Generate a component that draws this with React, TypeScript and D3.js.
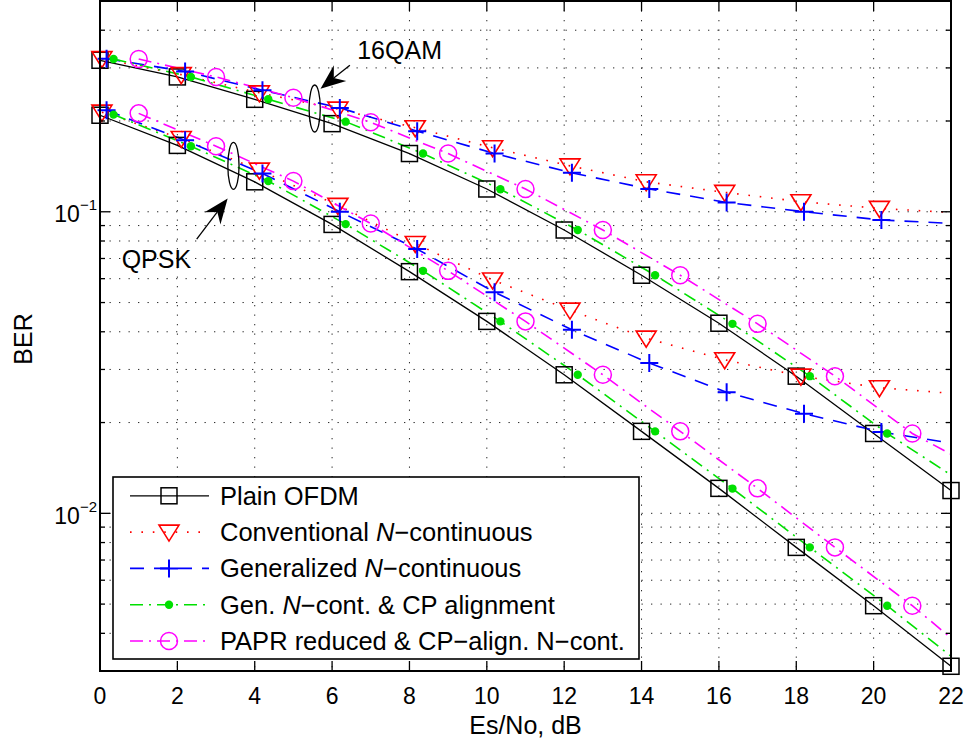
import React from 'react';
import * as d3 from 'd3';

// ---------- data (BER vs Es/No, dB) ----------
const xTicks = [0, 2, 4, 6, 8, 10, 12, 14, 16, 18, 20, 22];
const yMajorTicks = [0.01, 0.1];
const yDomain = [0.003, 0.5];

// Plain OFDM (squares)
const xPlain = [0, 2, 4, 6, 8, 10, 12, 14, 16, 18, 20, 22];
const plain16 = [0.318, 0.28, 0.236, 0.196, 0.156, 0.119, 0.087, 0.0616, 0.0427, 0.0285, 0.0184, 0.0119];
const plainQ = [0.209, 0.166, 0.1257, 0.0908, 0.0633, 0.0433, 0.0288, 0.0187, 0.0121, 0.00771, 0.00494, 0.00311];

// Conventional N-continuous (triangles)
const xConv = [0.05, 2.1, 4.12, 6.15, 8.15, 10.15, 12.15, 14.12, 16.15, 18.12, 20.15];
const conv16 = [0.322, 0.285, 0.248, 0.219, 0.19, 0.163, 0.142, 0.1257, 0.116, 0.108, 0.1026];
const convQ = [0.214, 0.175, 0.1374, 0.105, 0.0785, 0.0594, 0.0472, 0.0381, 0.0323, 0.0285, 0.0261];
const convEnd16 = 0.0995;
const convEndQ = 0.025;

// Generalized N-continuous (plus)
const xGen = [0.17, 2.2, 4.2, 6.2, 8.2, 10.2, 12.2, 14.2, 16.2, 18.2, 20.2];
const gen16 = [0.322, 0.292, 0.253, 0.221, 0.185, 0.156, 0.1346, 0.119, 0.1074, 0.1, 0.0939];
const genQ = [0.217, 0.1725, 0.134, 0.1, 0.0752, 0.0541, 0.0406, 0.0315, 0.0252, 0.0214, 0.0186];
const genEnd16 = 0.0915;
const genEndQ = 0.0171;

// Gen. N-cont. & CP alignment (dots)
const xCP = [0.35, 2.35, 4.35, 6.35, 8.35, 10.35, 12.35, 14.35, 16.35, 18.35, 20.35];
const cp16 = [0.321, 0.28, 0.236, 0.199, 0.156, 0.1188, 0.087, 0.0616, 0.0425, 0.0285, 0.0184];
const cpQ = [0.21, 0.165, 0.1264, 0.091, 0.0637, 0.0433, 0.0288, 0.0187, 0.01208, 0.00771, 0.00494];
const cpEnd16 = 0.0134;
const cpEndQ = 0.00336;

// PAPR reduced & CP-align. N-cont. (circles)
const xPapr = [1, 3, 5, 7, 9, 11, 13, 15, 17, 19, 21];
const papr16 = [0.321, 0.28, 0.239, 0.198, 0.156, 0.119, 0.087, 0.0616, 0.0425, 0.0285, 0.0184];
const paprQ = [0.212, 0.165, 0.1264, 0.0914, 0.0637, 0.0433, 0.0288, 0.0187, 0.0121, 0.00771, 0.00494];
const paprEnd16 = 0.0157;
const paprEndQ = 0.00386;

const xEnd = 22;

// annotations (data coordinates)
const annLabels = ['16QAM', 'QPSK'];
const annEllipse = [[5.55, 0.22], [3.45, 0.142]];
const annArrowTail = [[6.46, 0.306], [2.5, 0.0812]];
const annArrowTip = [[5.7, 0.256], [3.3, 0.1107]];
const annText = [[6.65, 0.321], [0.56, 0.0653]];

// ---------- layout ----------
const W = 970, H = 744;
const PL = 100, PR = 951, PT = 1, PB = 671;
const FONT = "'Liberation Sans', Arial, Helvetica, sans-serif";

type Mk = 'square' | 'tri' | 'plus' | 'dot' | 'circle';
interface S {
  label: React.ReactNode;
  color: string;
  dash: string | undefined;
  width: number;
  marker: Mk;
  xs: number[];
  v16: number[];
  vQ: number[];
  end16: number | null;
  endQ: number | null;
}

const series: S[] = [
  { label: 'Plain OFDM', color: '#000000', dash: undefined, width: 1.3, marker: 'square', xs: xPlain, v16: plain16, vQ: plainQ, end16: null, endQ: null },
  { label: <>Conventional <tspan fontStyle="italic">N</tspan>−continuous</>, color: '#ff0000', dash: '1.6,9.8', width: 1.6, marker: 'tri', xs: xConv, v16: conv16, vQ: convQ, end16: convEnd16, endQ: convEndQ },
  { label: <>Generalized <tspan fontStyle="italic">N</tspan>−continuous</>, color: '#0000ff', dash: '14,10', width: 1.6, marker: 'plus', xs: xGen, v16: gen16, vQ: genQ, end16: genEnd16, endQ: genEndQ },
  { label: <>Gen. <tspan fontStyle="italic">N</tspan>−cont. &amp; CP alignment</>, color: '#00e000', dash: '13,6,2,6', width: 1.6, marker: 'dot', xs: xCP, v16: cp16, vQ: cpQ, end16: cpEnd16, endQ: cpEndQ },
  { label: 'PAPR reduced & CP−align. N−cont.', color: '#ff00ff', dash: '13,6,2,6', width: 1.6, marker: 'circle', xs: xPapr, v16: papr16, vQ: paprQ, end16: paprEnd16, endQ: paprEndQ },
];

function Marker({ type, cx, cy, color }: { type: Mk; cx: number; cy: number; color: string }) {
  switch (type) {
    case 'square':
      return <rect x={cx - 8} y={cy - 8} width={16} height={16} fill="none" stroke={color} strokeWidth={1.5} />;
    case 'tri':
      return <path d={`M${cx - 10},${cy - 7}L${cx + 10},${cy - 7}L${cx},${cy + 9}Z`} fill="none" stroke={color} strokeWidth={1.6} />;
    case 'plus':
      return <path d={`M${cx - 9},${cy}H${cx + 9}M${cx},${cy - 9}V${cy + 9}`} fill="none" stroke={color} strokeWidth={2} />;
    case 'dot':
      return <circle cx={cx} cy={cy} r={4.2} fill={color} stroke="none" />;
    case 'circle':
      return <circle cx={cx} cy={cy} r={8.5} fill="none" stroke={color} strokeWidth={1.5} />;
  }
  return null;
}

export default function App() {
  const x = d3.scaleLinear().domain([0, 22]).range([PL, PR]);
  const y = d3.scaleLog().domain(yDomain).range([PB, PT]);
  const line = d3.line<[number, number]>().x((d) => x(d[0])).y((d) => y(d[1]));

  const minor = y.ticks().filter((v) => v > yDomain[0] * 1.0001 && v < yDomain[1] * 0.9999);

  const pts = (xs: number[], vs: number[], end: number | null): [number, number][] => {
    const p: [number, number][] = xs.map((xv, i) => [xv, vs[i]]);
    if (end !== null) p.push([xEnd, end]);
    return p;
  };

  const arrow = (tail: number[], tip: number[]) => {
    const tx = x(tail[0]), ty = y(tail[1]);
    const hx = x(tip[0]), hy = y(tip[1]);
    const dx = hx - tx, dy = hy - ty;
    const len = Math.hypot(dx, dy);
    const ux = dx / len, uy = dy / len;
    const nx = -uy, ny = ux;
    const L = 25, Wd = 10;
    const bx = hx - L * ux, by = hy - L * uy;
    const mx = hx - 0.68 * L * ux, my = hy - 0.68 * L * uy;
    return (
      <g>
        <line x1={tx} y1={ty} x2={mx} y2={my} stroke="#000" strokeWidth={1.3} />
        <path d={`M${hx},${hy}L${bx + Wd * nx},${by + Wd * ny}L${mx},${my}L${bx - Wd * nx},${by - Wd * ny}Z`} fill="#000" />
      </g>
    );
  };

  const legX0 = 113, legY0 = 477, legW = 526, legH = 182;
  const rowY = (i: number) => 495.8 + i * 36.3;

  return (
    <svg width={W} height={H} style={{ position: 'absolute', left: 0, top: 0, background: '#fff' }} fontFamily={FONT}>
      <rect x={0} y={0} width={W} height={H} fill="#fff" />
      {/* grid */}
      <g stroke="#000" strokeWidth={1} strokeDasharray="1.3,8.2" opacity={0.85}>
        {xTicks.filter((t) => t > 0 && t < 22).map((t) => (
          <line key={'gx' + t} x1={x(t)} x2={x(t)} y1={PT} y2={PB} />
        ))}
        {minor.map((v) => (
          <line key={'gy' + v} x1={PL} x2={PR} y1={y(v)} y2={y(v)} />
        ))}
      </g>

      {/* series lines */}
      {series.map((s, i) => (
        <g key={'l' + i} fill="none" stroke={s.color} strokeWidth={s.width} strokeDasharray={s.dash}>
          <path d={line(pts(s.xs, s.v16, s.end16)) || ''} />
          <path d={line(pts(s.xs, s.vQ, s.endQ)) || ''} />
        </g>
      ))}
      {/* markers */}
      {series.map((s, i) => (
        <g key={'m' + i}>
          {s.xs.map((xv, j) => (
            <Marker key={'a' + j} type={s.marker} cx={x(xv)} cy={y(s.v16[j])} color={s.color} />
          ))}
          {s.xs.map((xv, j) => (
            <Marker key={'b' + j} type={s.marker} cx={x(xv)} cy={y(s.vQ[j])} color={s.color} />
          ))}
        </g>
      ))}

      {/* annotations */}
      {annLabels.map((lab, i) => (
        <g key={'ann' + i}>
          <ellipse cx={x(annEllipse[i][0])} cy={y(annEllipse[i][1])} rx={5.6} ry={23.5} fill="none" stroke="#000" strokeWidth={1.3} />
          {arrow(annArrowTail[i], annArrowTip[i])}
          <text x={x(annText[i][0])} y={y(annText[i][1])} fontSize={25} fill="#000">{lab}</text>
        </g>
      ))}

      {/* axes box */}
      <rect x={PL} y={PT} width={PR - PL} height={PB - PT} fill="none" stroke="#000" strokeWidth={2} />
      {/* x ticks */}
      <g stroke="#000" strokeWidth={1.3}>
        {xTicks.map((t) => (
          <g key={'xt' + t}>
            <line x1={x(t)} x2={x(t)} y1={PB} y2={PB - 10} />
            <line x1={x(t)} x2={x(t)} y1={PT} y2={PT + 10} />
          </g>
        ))}
        {minor.map((v) => {
          const len = yMajorTicks.includes(v) ? 10 : 5;
          return (
            <g key={'yt' + v}>
              <line x1={PL} x2={PL + len} y1={y(v)} y2={y(v)} />
              <line x1={PR} x2={PR - len} y1={y(v)} y2={y(v)} />
            </g>
          );
        })}
      </g>
      {/* tick labels */}
      <g fontSize={23} fill="#000" textAnchor="middle">
        {xTicks.map((t) => (
          <text key={'xl' + t} x={x(t)} y={703.5}>{t}</text>
        ))}
      </g>
      <g fill="#000" textAnchor="end">
        {yMajorTicks.map((v) => (
          <text key={'yl' + v} x={97} y={y(v) + 10.5} fontSize={23}>
            10<tspan fontSize={15} dy={-12}>−{Math.round(-Math.log10(v))}</tspan>
          </text>
        ))}
      </g>
      {/* axis labels */}
      <text x={(PL + PR) / 2} y={733.5} fontSize={25} textAnchor="middle" fill="#000">Es/No, dB</text>
      <text transform={`translate(31.5,${(PT + PB) / 2 + 3}) rotate(-90)`} fontSize={25} textAnchor="middle" fill="#000">BER</text>

      {/* legend */}
      <rect x={legX0} y={legY0} width={legW} height={legH} fill="#fff" stroke="#000" strokeWidth={1.6} />
      {series.map((s, i) => (
        <g key={'lg' + i}>
          <line x1={130} x2={209} y1={rowY(i)} y2={rowY(i)} stroke={s.color} strokeWidth={s.width} strokeDasharray={s.dash} />
          <Marker type={s.marker} cx={169} cy={rowY(i)} color={s.color} />
          <text x={220} y={rowY(i) + 9} fontSize={25.5} fill="#000">{s.label}</text>
        </g>
      ))}
    </svg>
  );
}
